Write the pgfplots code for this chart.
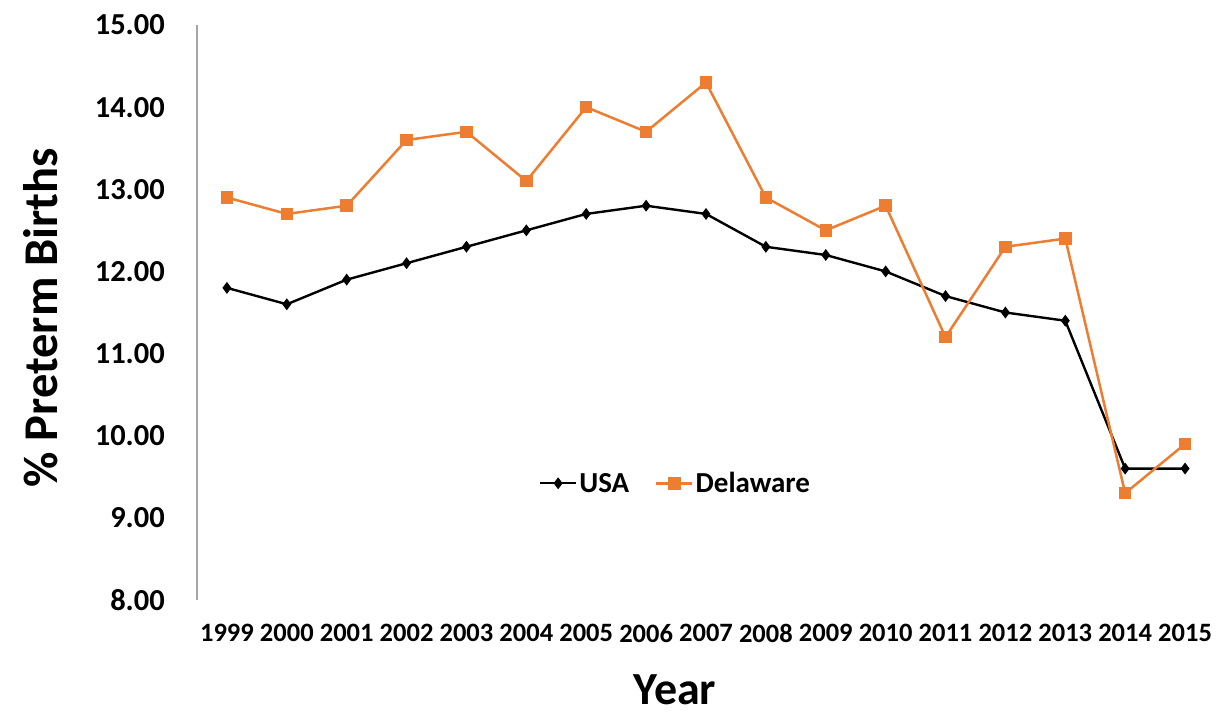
\documentclass[border=0pt]{standalone}
\usepackage{pgfplots}
\pgfplotsset{compat=1.18}
\usepackage{fontspec}
\setmainfont{Carlito}
\definecolor{dorange}{HTML}{ED7D31}
\definecolor{axisgray}{HTML}{A6A6A6}

% Preterm birth rates (%), index 0 = 1999 ... 16 = 2015
\pgfplotstableread{
idx usa delaware
0  11.8 12.9
1  11.6 12.7
2  11.9 12.8
3  12.1 13.6
4  12.3 13.7
5  12.5 13.1
6  12.7 14.0
7  12.8 13.7
8  12.7 14.3
9  12.3 12.9
10 12.2 12.5
11 12.0 12.8
12 11.7 11.2
13 11.5 12.3
14 11.4 12.4
15 9.6  9.3
16 9.6  9.9
}\births

\begin{document}
\begin{tikzpicture}[x=1pt,y=1pt]
\useasboundingbox (-197,-117) rectangle (1026,600);
\begin{axis}[
  at={(0,0)}, anchor=south west,
  scale only axis, width=1018pt, height=575pt,
  xmin=-0.5, xmax=16.5, ymin=8, ymax=15,
  xtick={0,...,16},
  xticklabels={1999,2000,2001,2002,2003,2004,2005,2006,2007,2008,2009,2010,2011,2012,2013,2014,2015},
  ytick={8,9,...,15},
  axis lines*=left,
  x axis line style={draw=none},
  y axis line style={draw=axisgray, line width=1.5pt},
  major tick length=0pt,
  /pgf/number format/assume math mode=true,
  yticklabel style={/pgf/number format/.cd, fixed, fixed zerofill, precision=2, /tikz/.cd,
    font=\bfseries\fontsize{30.5}{32}\selectfont, inner sep=0pt, xshift=-32pt},
  xticklabel style={font=\bfseries\fontsize{26.5}{28}\selectfont, inner sep=0pt, yshift=-24pt},
  ylabel={\% Preterm Births},
  ylabel style={at={(axis description cs:-0.154,0.491)}, anchor=center, rotate=0,
    font=\bfseries\fontsize{48.5}{52}\selectfont},
  xlabel={Year},
  xlabel style={at={(axis description cs:0.4696,-0.182)}, anchor=base, inner sep=0pt,
    font=\bfseries\fontsize{46}{50}\selectfont},
  legend style={at={(axis description cs:0.47,0.203)}, anchor=center, draw=none,
    fill=none, font=\bfseries\fontsize{29}{31}\selectfont, legend columns=-1,
    /tikz/every even column/.append style={column sep=24pt}},
  legend image code/.code={\draw[mark repeat=2, mark phase=2]
    plot coordinates {(0pt,0pt) (18pt,0pt) (36pt,0pt)};},
  clip=false,
]
\addplot[black, line width=2.4pt, mark=diamond*, mark size=4pt,
  mark options={solid, fill=black}] table[x=idx, y=usa] {\births};
\addlegendentry{USA}
\addplot[dorange, line width=2.5pt, mark=square*, mark size=5pt,
  mark options={solid, fill=dorange}] table[x=idx, y=delaware] {\births};
\addlegendentry{Delaware}
\end{axis}
\end{tikzpicture}
\end{document}
